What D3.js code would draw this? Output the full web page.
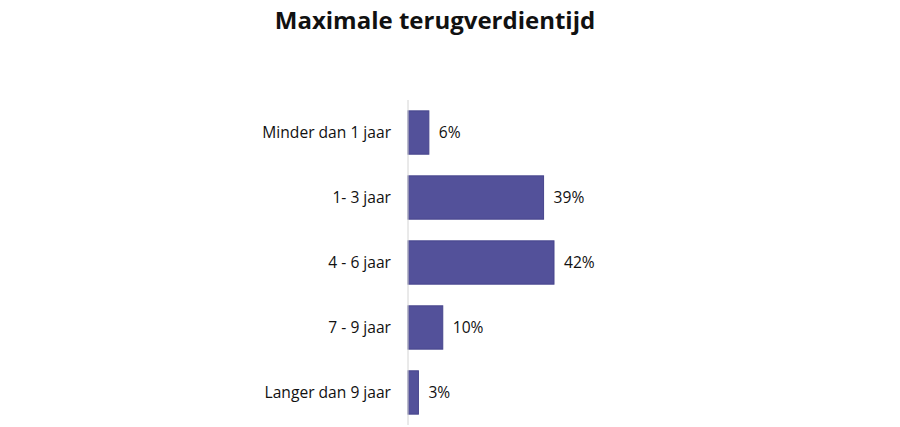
<!DOCTYPE html>
<html><head><meta charset="utf-8">
<script src="https://cdn.jsdelivr.net/npm/d3@7"></script>
<style>body{margin:0;background:#fff;} svg{display:block;}</style>
</head><body>
<script>
const categories = ["Minder dan 1 jaar","1- 3 jaar","4 - 6 jaar","7 - 9 jaar","Langer dan 9 jaar"];
const values = [6,39,42,10,3];
const title = "Maximale terugverdientijd";

const W=900,H=427;
const svg=d3.select("body").append("svg").attr("width",W).attr("height",H);
const font="'Open Sans', Lato, sans-serif";

const x=d3.scaleLinear().domain([0,42]).range([408,554]);
const y=d3.scaleBand().domain(categories).range([100,425]).paddingInner(0.333).paddingOuter(0.167);

svg.append("text").attr("x",435).attr("y",29).attr("text-anchor","middle")
  .attr("font-family",font).attr("font-weight","bold").attr("font-size",24)
  .attr("fill","#111").text(title);

svg.selectAll("rect.bar").data(values).join("rect").attr("class","bar")
  .attr("x",x(0)).attr("y",(d,i)=>y(categories[i]))
  .attr("width",d=>x(d)-x(0)).attr("height",y.bandwidth())
  .attr("fill","#53519a").attr("stroke","#46448c").attr("stroke-width",1);

svg.append("line").attr("x1",x(0)).attr("x2",x(0)).attr("y1",100).attr("y2",425)
  .attr("stroke","#d4d4d4").attr("stroke-width",1);

svg.selectAll("text.cat").data(categories).join("text").attr("class","cat")
  .attr("x",391).attr("y",d=>y(d)+y.bandwidth()/2).attr("dy","0.35em")
  .attr("text-anchor","end").attr("font-family",font).attr("font-size",15.6)
  .attr("fill","#111").text(d=>d);

svg.selectAll("text.val").data(values).join("text").attr("class","val")
  .attr("x",d=>x(d)+10).attr("y",(d,i)=>y(categories[i])+y.bandwidth()/2).attr("dy","0.35em")
  .attr("font-family",font).attr("font-size",15.6).attr("fill","#111").text(d=>d+"%");
</script>
</body></html>
